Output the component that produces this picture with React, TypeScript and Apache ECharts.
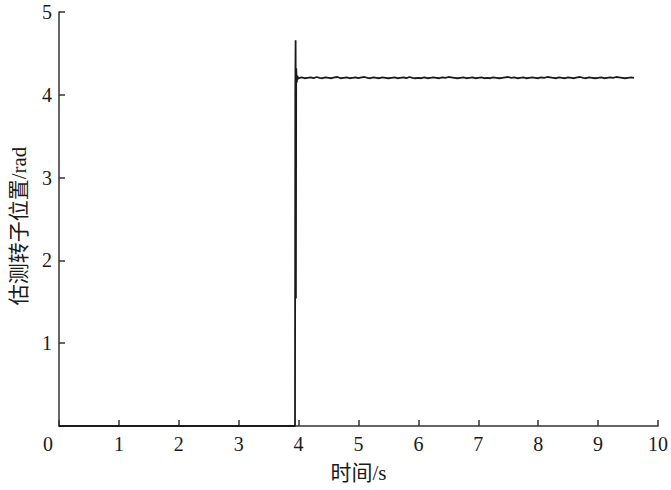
import React, { useEffect, useRef } from "react";
import * as echarts from "echarts";

const xTicks = [0, 1, 2, 3, 4, 5, 6, 7, 8, 9, 10];
const yTicks = [0, 1, 2, 3, 4, 5];

const transientTime = [0, 3.94, 3.945, 3.95, 3.955, 3.96, 3.97, 3.98, 3.99];
const transientValue = [0, 0, 4.0, 4.66, 1.54, 4.32, 4.15, 4.23, 4.19];

const steadyTime = [
  4.0, 4.05, 4.1, 4.15, 4.2, 4.25, 4.3, 4.35, 4.4, 4.45, 4.5, 4.55, 4.6, 4.65, 4.7, 4.75, 4.8, 4.85, 4.9, 4.95,
  5.0, 5.05, 5.1, 5.15, 5.2, 5.25, 5.3, 5.35, 5.4, 5.45, 5.5, 5.55, 5.6, 5.65, 5.7, 5.75, 5.8, 5.85, 5.9, 5.95,
  6.0, 6.05, 6.1, 6.15, 6.2, 6.25, 6.3, 6.35, 6.4, 6.45, 6.5, 6.55, 6.6, 6.65, 6.7, 6.75, 6.8, 6.85, 6.9, 6.95,
  7.0, 7.05, 7.1, 7.15, 7.2, 7.25, 7.3, 7.35, 7.4, 7.45, 7.5, 7.55, 7.6, 7.65, 7.7, 7.75, 7.8, 7.85, 7.9, 7.95,
  8.0, 8.05, 8.1, 8.15, 8.2, 8.25, 8.3, 8.35, 8.4, 8.45, 8.5, 8.55, 8.6, 8.65, 8.7, 8.75, 8.8, 8.85, 8.9, 8.95,
  9.0, 9.05, 9.1, 9.15, 9.2, 9.25, 9.3, 9.35, 9.4, 9.45, 9.5, 9.55, 9.6,
];
const steadyValue = [
  4.2, 4.21, 4.2, 4.205, 4.21, 4.2, 4.215, 4.205, 4.2, 4.21, 4.205, 4.2, 4.21, 4.215, 4.2, 4.205, 4.21, 4.2, 4.205, 4.21,
  4.2, 4.21, 4.215, 4.205, 4.2, 4.21, 4.205, 4.2, 4.21, 4.205, 4.2, 4.205, 4.21, 4.2, 4.205, 4.21, 4.2, 4.215, 4.205, 4.2,
  4.205, 4.2, 4.21, 4.2, 4.205, 4.21, 4.205, 4.2, 4.21, 4.205, 4.215, 4.21, 4.205, 4.2, 4.205, 4.21, 4.2, 4.205, 4.21, 4.2,
  4.205, 4.21, 4.2, 4.205, 4.2, 4.21, 4.205, 4.2, 4.205, 4.21, 4.215, 4.205, 4.21, 4.2, 4.205, 4.21, 4.2, 4.205, 4.21, 4.205,
  4.2, 4.21, 4.205, 4.215, 4.21, 4.205, 4.2, 4.21, 4.205, 4.2, 4.21, 4.205, 4.2, 4.21, 4.215, 4.205, 4.2, 4.21, 4.205, 4.2,
  4.205, 4.21, 4.2, 4.205, 4.21, 4.205, 4.215, 4.21, 4.205, 4.2, 4.205, 4.21, 4.205,
];

const xName = "时间/s";
const yName = "估测转子位置/rad";

const FONT = "'Liberation Serif', 'Times New Roman', 'Noto Sans CJK SC', serif";

export default function App() {
  const ref = useRef<HTMLDivElement>(null);
  useEffect(() => {
    if (!ref.current) return;
    const chart = echarts.init(ref.current, undefined, { renderer: "svg" });
    const data: [number, number][] = [];
    transientTime.forEach((t, i) => data.push([t, transientValue[i]]));
    steadyTime.forEach((t, i) => data.push([t, steadyValue[i]]));
    chart.setOption({
      animation: false,
      backgroundColor: "#ffffff",
      grid: { left: 59, right: 9, top: 12, bottom: 64, containLabel: false },
      xAxis: {
        type: "value",
        min: xTicks[0],
        max: xTicks[xTicks.length - 1],
        interval: 1,
        name: xName,
        nameLocation: "middle",
        nameGap: 36,
        nameTextStyle: { fontFamily: FONT, fontSize: 21, color: "#1a1a1a" },
        axisLine: { show: true, onZero: false, lineStyle: { color: "#333", width: 1.5 } },
        axisTick: { show: true, inside: true, length: 6, lineStyle: { color: "#333", width: 1.5 } },
        axisLabel: {
          margin: 8,
          fontFamily: FONT,
          fontSize: 20,
          color: "#1a1a1a",
          formatter: (v: number) => (v === 0 ? "{z|0}" : String(v)),
          rich: { z: { fontFamily: FONT, fontSize: 20, color: "#1a1a1a", padding: [0, 22, 0, 0] } },
        },
        splitLine: { show: false },
      },
      yAxis: {
        type: "value",
        min: yTicks[0],
        max: yTicks[yTicks.length - 1],
        interval: 1,
        name: yName,
        nameLocation: "middle",
        nameGap: 30,
        nameTextStyle: { fontFamily: FONT, fontSize: 21, color: "#1a1a1a", padding: [0, 14, 0, 0] },
        axisLine: { show: true, lineStyle: { color: "#333", width: 1.5 } },
        axisTick: { show: true, inside: true, length: 6, lineStyle: { color: "#333", width: 1.5 } },
        axisLabel: {
          margin: 7,
          fontFamily: FONT,
          fontSize: 20,
          color: "#1a1a1a",
          showMinLabel: false,
        },
        splitLine: { show: false },
      },
      series: [
        {
          type: "line",
          data,
          showSymbol: false,
          symbol: "none",
          lineStyle: { color: "#1a1a1a", width: 1.8 },
        },
      ],
    });
    return () => chart.dispose();
  }, []);
  return <div ref={ref} style={{ width: 671, height: 490, position: "absolute", left: 0, top: 0 }} />;
}
